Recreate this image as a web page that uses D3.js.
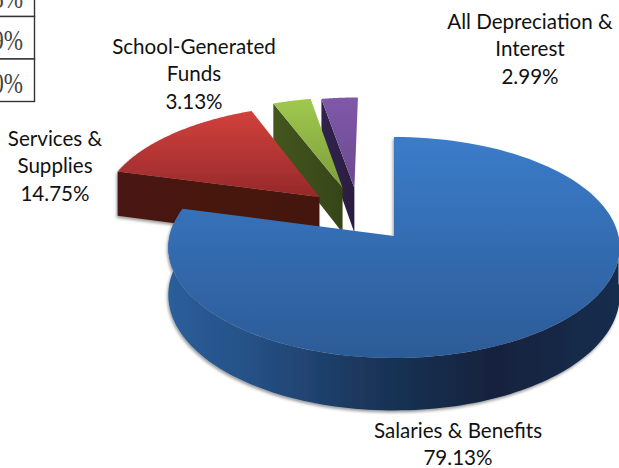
<!DOCTYPE html>
<html>
<head>
<meta charset="utf-8">
<script src="https://cdn.jsdelivr.net/npm/d3@7"></script>
<style>
  html, body { margin: 0; padding: 0; background: #fff; }
  svg { display: block; }
  text { font-family: Lato, "Open Sans", sans-serif; font-size: 20.6px; fill: #111; }
  .cell { font-family: "Liberation Serif", serif; font-size: 30px; fill: #444; }
</style>
</head>
<body>
<svg id="chart" width="619" height="468"></svg>
<script>
// chart values
const categories = ['Salaries & Benefits', 'Services & Supplies', 'School-Generated Funds', 'All Depreciation & Interest'];
const shares = [79.13, 14.75, 3.13, 2.99];
// the bit of the table that pokes in at the top left
const tableCells = ['3.13%', '2.99%', '100.00%'];

const svg = d3.select('#chart');
const defs = svg.append('defs');

// perspective of the pie plane, fitted to the blue slice
const apexX = 394, apexY = 236, scaleX = 224.5, scaleY = 109.3, tilt = 0.104, depth = 47;
const project = (u, v) => {
  const w = 1 + tilt * v;
  return { x: apexX + scaleX * u / w, y: apexY - scaleY * v / w, h: depth / w };
};

// per slice styling, same order as categories
const looks = [
  { dx: 0, dy: 0, top: ['#3b7cca', '#2c5b97'], wall: [[0, '#2b5e9a'], [0.2, '#254f84'], [0.45, '#1a3559'], [0.72, '#13233d'], [1, '#182d4e']], shadow: true },
  { dx: -0.345, dy: 0.371, top: ['#d2413d', '#96292a'], wall: [[0, '#4a1412'], [1, '#441210']], shadow: true },
  { dx: -0.24, dy: 0.46, top: ['#a0c84e', '#7d9e3b'], wall: [[0, '#44561f'], [1, '#364517']], shadow: false },
  { dx: -0.185, dy: 0.46, top: ['#8058aa', '#6b4a8f'], wall: [[0, '#31224c'], [1, '#2a1d40']], shadow: false }
];
const labels = [
  { x: 458, y: 438, lines: ['Salaries & Benefits', '79.13%'] },
  { x: 55, y: 146, lines: ['Services &', 'Supplies', '14.75%'] },
  { x: 194, y: 54, lines: ['School-Generated', 'Funds', '3.13%'] },
  { x: 530, y: 29, lines: ['All Depreciation &', 'Interest', '2.99%'] }
];

const pie = d3.pie().sort(null).value(d => d);
const slices = pie(shares).map((d, i) => ({ ...d, name: categories[i], look: looks[i], i }));

const line = d3.line().x(d => d.x).y(d => d.y);

// soft edge under the big slices
const blur = defs.append('filter').attr('id', 'soft')
  .attr('x', '-10%').attr('y', '-10%').attr('width', '120%').attr('height', '120%');
blur.append('feDropShadow').attr('dx', -1).attr('dy', 2).attr('stdDeviation', 1.5)
  .attr('flood-color', '#000').attr('flood-opacity', 0.4);

slices.forEach(s => {
  const top = defs.append('linearGradient').attr('id', `top${s.i}`).attr('x1', 0).attr('y1', 0).attr('x2', 0).attr('y2', 1);
  top.append('stop').attr('offset', 0).attr('stop-color', s.look.top[0]);
  top.append('stop').attr('offset', 1).attr('stop-color', s.look.top[1]);
  const wall = defs.append('linearGradient').attr('id', `wall${s.i}`).attr('x1', 0).attr('y1', 0).attr('x2', 1).attr('y2', 0);
  s.look.wall.forEach(c => wall.append('stop').attr('offset', c[0]).attr('stop-color', c[1]));
});

// points of a slice's rim between two angles, angle 0 is straight back
const rim = (s, a0, a1) => d3.range(0, 121).map(k => {
  const a = a0 + (a1 - a0) * k / 120;
  return project(Math.sin(a) + s.look.dx, Math.cos(a) + s.look.dy);
});
const apex = s => project(s.look.dx, s.look.dy);

// back slices first, blue last
const layers = svg.selectAll('g.slice').data(slices.slice().reverse()).enter()
  .append('g').attr('class', 'slice')
  .attr('filter', d => d.look.shadow ? 'url(#soft)' : null);

// cut wall and outer wall, both just the edge pushed down
layers.each(function (s) {
  const g = d3.select(this);
  const a = apex(s);
  const start = rim(s, s.startAngle, s.startAngle)[0];
  if (s.i > 0) {
    const cut = [start, a, { x: a.x, y: a.y + a.h }, { x: start.x, y: start.y + start.h }];
    g.append('path').attr('d', line(cut) + 'Z').attr('fill', `url(#wall${s.i})`);
  } else {
    // only the front part of the round edge shows
    const front = rim(s, Math.PI / 2, 3 * Math.PI / 2 + 0.1);
    const outline = front.concat(front.slice().reverse().map(p => ({ x: p.x, y: p.y + p.h })));
    g.append('path').attr('d', line(outline) + 'Z').attr('fill', `url(#wall${s.i})`);
  }
  const face = [a].concat(rim(s, s.startAngle, s.endAngle));
  g.append('path').attr('class', 'face').attr('d', line(face) + 'Z').attr('fill', `url(#top${s.i})`);
});

// labels
const labelSel = svg.selectAll('text.label').data(labels).enter()
  .append('text').attr('class', 'label').attr('text-anchor', 'middle');
labelSel.selectAll('tspan').data(d => d.lines.map((t, j) => ({ t, j, x: d.x, y: d.y }))).enter()
  .append('tspan').attr('x', d => d.x).attr('y', d => d.y + d.j * 27.3).text(d => d.t);

// table fragment, the source type is squeezed sideways
const table = svg.append('g');
const rowY = d3.scaleLinear().domain([0, 1]).range([-26, 16.5]);
tableCells.forEach((t, i) => {
  table.append('rect').attr('x', -5).attr('y', rowY(i)).attr('width', 39.5).attr('height', rowY(1) - rowY(0))
    .attr('fill', '#fff').attr('stroke', '#333').attr('stroke-width', 1.4);
  table.append('text').attr('class', 'cell').attr('text-anchor', 'end')
    .attr('transform', `translate(23,${rowY(i) + 33.5}) scale(0.77,1)`).text(t);
});
</script>
</body>
</html>
